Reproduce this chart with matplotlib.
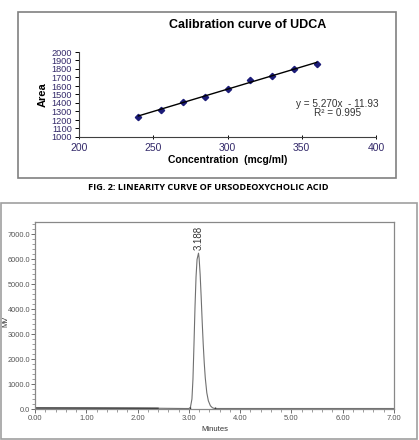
import numpy as np
import matplotlib
matplotlib.use("Agg")
import matplotlib.pyplot as plt
from matplotlib.patches import Rectangle

plt.rcParams['font.family'] = ['Liberation Sans', 'DejaVu Sans']

# ---- calibration data ----
conc = [240, 255, 270, 285, 300, 315, 330, 345, 360]
area = [1240, 1322, 1416, 1468, 1568, 1672, 1722, 1795, 1862]
eq_text = "y = 5.270x  - 11.93"
r2_text = "R² = 0.995"
x_ticks_top = [200, 250, 300, 350, 400]
y_ticks_top = list(range(1000, 2001, 100))

# ---- chromatogram data ----
t_min = [0.00, 1.00, 2.00, 2.40, 2.90, 3.00, 3.03, 3.06, 3.08, 3.10, 3.12, 3.14,
         3.16, 3.188, 3.20, 3.22, 3.24, 3.26, 3.28, 3.30, 3.32, 3.35, 3.38,
         3.42, 3.46, 3.50, 4.00, 5.00, 6.00, 7.00]
signal = [40, 40, 35, 30, 20, 20, 60, 400, 1200, 2600, 4100, 5300,
          6000, 6250, 6050, 5400, 4500, 3500, 2600, 1850, 1250, 650, 330,
          130, 50, 20, 20, 20, 20, 20]
peak_label = "3.188"
x_ticks_bot = [0, 1, 2, 3, 4, 5, 6, 7]
y_ticks_bot = [0, 1000, 2000, 3000, 4000, 5000, 6000, 7000]

W, H = 419, 440
fig = plt.figure(figsize=(W / 100, H / 100), dpi=100)

def fx(px):
    return px / W

def fy(py):
    return 1 - py / H

# panel borders
fig.patches.append(Rectangle((fx(18), fy(178)), fx(378), 166 / H, transform=fig.transFigure,
                             fill=False, edgecolor='#808080', linewidth=1.2))
fig.patches.append(Rectangle((fx(1), fy(439)), fx(416), 236 / H, transform=fig.transFigure,
                             fill=False, edgecolor='#a0a0a0', linewidth=1.2))

# ---- top chart ----
tick_col = '#33296a'
ax1 = fig.add_axes([fx(79), fy(137), fx(297), (137 - 52) / H])
ax1.plot(conc, area, linestyle='none', marker='D', markersize=3.2,
         color='#1c1c78')
coef = np.polyfit(conc, area, 1)
xs = np.array([min(conc), max(conc)])
ax1.plot(xs, np.polyval(coef, xs), color='black', linewidth=1.0)
ax1.set_xlim(200, 400)
ax1.set_ylim(1000, 2000)
ax1.set_xticks(x_ticks_top)
ax1.set_yticks(y_ticks_top)
for s in ['top', 'right']:
    ax1.spines[s].set_visible(False)
for s in ['left', 'bottom']:
    ax1.spines[s].set_color('#404040')
    ax1.spines[s].set_linewidth(0.8)
ax1.tick_params(axis='y', labelsize=6.6, labelcolor=tick_col, length=3, width=0.7, pad=2)
ax1.tick_params(axis='x', labelsize=7.5, labelcolor=tick_col, length=3, width=0.7,
                direction='inout', pad=3)
ax1.set_xlabel("Concentration  (mcg/ml)", fontsize=7.5, fontweight='bold', labelpad=1)
ax1.set_ylabel("Area", fontsize=8, fontweight='bold', labelpad=3)
ax1.text(374, 1388, eq_text, ha='center', va='center', fontsize=7.2, color='#333333')
ax1.text(374, 1282, r2_text, ha='center', va='center', fontsize=7.2, color='#333333')
fig.text(fx(248), fy(25), "Calibration curve of UDCA", ha='center', va='center',
         fontsize=9, fontweight='bold')

# caption
fig.text(fx(208), fy(188), "FIG. 2: LINEARITY CURVE OF URSODEOXYCHOLIC ACID",
         ha='center', va='center', fontsize=6.6, fontweight='bold',
         family=['Open Sans', 'DejaVu Sans'], fontstretch='condensed')

# ---- bottom chart ----
gcol = '#555555'
ax2 = fig.add_axes([fx(35), fy(409), fx(359), (409 - 222) / H])
ax2.plot(t_min, signal, color='#707070', linewidth=0.8)
ax2.plot([0, 2.4], [40, 30], color='#303030', linewidth=0.9)
ax2.plot([3.03, 3.5], [20, 20], color='#303030', linewidth=0.6)
ax2.plot([3.03, 3.5], [20, 20], linestyle='none', marker='|', markersize=3, color='#303030')
ax2.set_xlim(0, 7)
ax2.set_ylim(0, 7500)
ax2.set_xticks(x_ticks_bot)
ax2.set_xticklabels([f"{v:.2f}" for v in x_ticks_bot])
ax2.set_yticks(y_ticks_bot)
ax2.set_yticklabels([f"{v:.1f}" for v in y_ticks_bot])
ax2.set_xticks(np.arange(0, 7.01, 0.2), minor=True)
ax2.set_yticks(np.arange(0, 7501, 200), minor=True)
for s in ax2.spines.values():
    s.set_color('#888888')
    s.set_linewidth(0.9)
ax2.tick_params(axis='x', which='major', labelsize=5.5, labelcolor=gcol, color='#555555',
                length=3, width=0.6, pad=1.5)
ax2.tick_params(axis='y', which='major', labelsize=5.3, labelcolor=gcol, color='#555555',
                length=3, width=0.6, pad=0.5)
ax2.tick_params(axis='both', which='minor', color='#777777', length=2, width=0.5)
ax2.set_xlabel("Minutes", fontsize=5.5, color='#333333', labelpad=3)
fig.text(fx(6), fy(321), "MV", rotation=90, ha='center', va='center',
         fontsize=5.3, color='#333333')
ax2.annotate(peak_label, xy=(3.188, 6250), xytext=(0, 2), textcoords='offset points',
             rotation=90, ha='center', va='bottom', fontsize=7, color='#333333')

fig.savefig("out.png", dpi=100)
